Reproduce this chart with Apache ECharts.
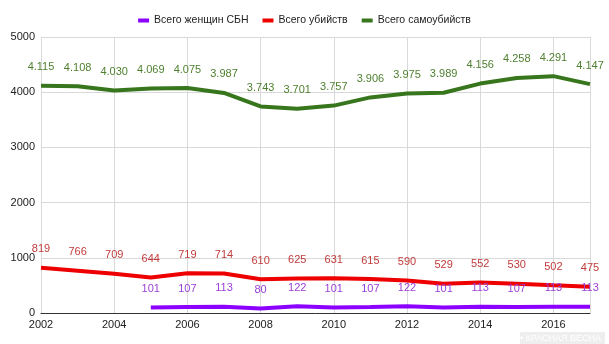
<!DOCTYPE html>
<html>
<head>
<meta charset="utf-8">
<script src="https://cdn.jsdelivr.net/npm/echarts@6/dist/echarts.min.js"></script>
<style>
  html, body { margin: 0; padding: 0; background: #fff; }
  #chart { width: 609px; height: 344px; }
</style>
</head>
<body>
<div id="chart"></div>
<script>
// Years and yearly totals
const years = [2002, 2003, 2004, 2005, 2006, 2007, 2008, 2009, 2010, 2011, 2012, 2013, 2014, 2015, 2016, 2017];
const suicides = [4115, 4108, 4030, 4069, 4075, 3987, 3743, 3701, 3757, 3906, 3975, 3989, 4156, 4258, 4291, 4147];
const murders = [819, 766, 709, 644, 719, 714, 610, 625, 631, 615, 590, 529, 552, 530, 502, 475];
const womenYears = [2005, 2006, 2007, 2008, 2009, 2010, 2011, 2012, 2013, 2014, 2015, 2016, 2017];
const women = [101, 107, 113, 80, 122, 101, 107, 122, 101, 113, 107, 113, 113];
const seriesNames = ['Всего женщин СБН', 'Всего убийств', 'Всего самоубийств'];

const pairs = (xs, ys) => xs.map((x, i) => [x, ys[i]]);
const fmtThousands = v => {
  const n = v.value[1];
  return n >= 1000 ? Math.floor(n / 1000) + '.' + String(n % 1000).padStart(3, '0') : String(n);
};

function lineSeries(name, data, lineColor, labelColor) {
  return {
    name: name,
    type: 'line',
    data: data,
    symbol: 'circle',
    symbolSize: 0,
    showSymbol: true,
    itemStyle: { color: lineColor },
    lineStyle: { color: lineColor, width: 4 },
    label: {
      show: true,
      position: 'top',
      distance: 13,
      color: labelColor,
      fontSize: 11,
      fontFamily: 'Liberation Sans, Arial, sans-serif',
      formatter: fmtThousands
    },
    labelLayout: { hideOverlap: false },
    emphasis: { disabled: true },
    z: 3
  };
}

const chart = echarts.init(document.getElementById('chart'));
chart.setOption({
  animation: false,
  backgroundColor: '#ffffff',
  textStyle: { fontFamily: 'Liberation Sans, Arial, sans-serif' },
  legend: {
    top: 10,
    left: 'center',
    itemWidth: 11,
    itemHeight: 4,
    itemGap: 14,
    icon: 'rect',
    textStyle: { fontSize: 10.5, color: '#222' },
    data: seriesNames
  },
  grid: { left: 41, right: 19, top: 37, bottom: 31 },
  xAxis: {
    type: 'value',
    min: 2002,
    max: 2017,
    interval: 2,
    axisLine: { show: true, lineStyle: { color: '#333', width: 1 } },
    axisTick: { show: false },
    axisLabel: { color: '#222', fontSize: 11, margin: 6, showMaxLabel: false, formatter: v => String(v) },
    splitLine: { show: true, lineStyle: { color: '#d9d9d9' } }
  },
  yAxis: {
    type: 'value',
    min: 0,
    max: 5000,
    interval: 1000,
    axisLine: { show: false },
    axisTick: { show: false },
    axisLabel: { color: '#222', fontSize: 11, margin: 6, formatter: v => String(v) },
    splitLine: { show: true, lineStyle: { color: '#d9d9d9' } }
  },
  series: [
    lineSeries(seriesNames[0], pairs(womenYears, women), '#8b00ff', '#9a3fd6'),
    lineSeries(seriesNames[1], pairs(years, murders), '#ee0000', '#c23b3b'),
    lineSeries(seriesNames[2], pairs(years, suicides), '#38761d', '#4d7f2e')
  ],
  graphic: [
    {
      type: 'rect',
      right: 4,
      bottom: 0,
      shape: { width: 85, height: 12 },
      style: { fill: '#eeeeee' }
    },
    {
      type: 'text',
      right: 8,
      bottom: 1,
      style: { text: '• КРАСНАЯ ВЕСНА', fill: '#ffffff', fontSize: 9 }
    }
  ]
});
</script>
</body>
</html>
